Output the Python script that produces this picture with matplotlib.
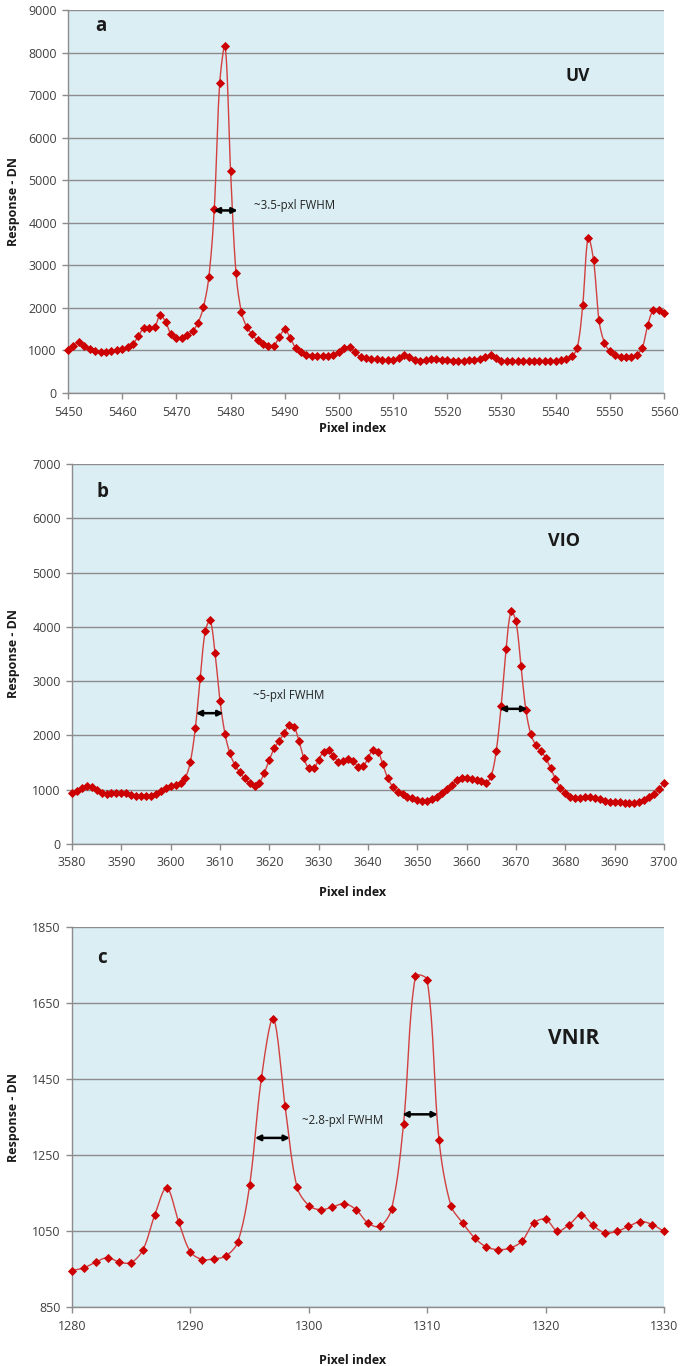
import numpy as np
import matplotlib
matplotlib.use("Agg")
import matplotlib.pyplot as plt

# ---------------- data ----------------
# Panel a (UV)
uv_x = list(range(5450, 5561))
uv_y = [1006, 1100, 1202, 1116, 1037, 998, 967, 959, 982, 1006,
        1045, 1092, 1163, 1336, 1532, 1517, 1548, 1831, 1674, 1375,
        1281, 1297, 1360, 1454, 1650, 2020, 2727, 4330, 7285, 8157,
        5226, 2829, 1902, 1548, 1375, 1234, 1140, 1100, 1116, 1312,
        1493, 1297, 1061, 959, 904, 880, 864, 864, 864, 904,
        959, 1061, 1077, 959, 841, 825, 809, 802, 786, 786,
        786, 825, 888, 841, 778, 762, 778, 794, 802, 786,
        778, 762, 762, 762, 770, 778, 802, 857, 888, 825,
        762, 747, 747, 747, 747, 747, 754, 754, 762, 762,
        762, 786, 809, 864, 1061, 2067, 3654, 3120, 1705, 1179,
        982, 888, 841, 841, 849, 904, 1061, 1595, 1941, 1941,
        1886]

# Panel b (VIO)
vio_x = list(range(3580, 3701))
vio_y = [947, 977, 1039, 1069, 1057, 996, 934, 922, 934, 947,
         947, 934, 903, 891, 879, 879, 885, 916, 977, 1026,
         1069, 1088, 1131, 1223, 1518, 2133, 3067, 3915, 4118, 3510,
         2637, 2034, 1672, 1457, 1321, 1211, 1119, 1069, 1131, 1315,
         1549, 1764, 1899, 2041, 2194, 2163, 1899, 1580, 1395, 1395,
         1549, 1702, 1733, 1623, 1518, 1530, 1567, 1530, 1426, 1432,
         1580, 1733, 1702, 1469, 1211, 1057, 965, 916, 873, 842,
         811, 799, 799, 830, 873, 934, 1008, 1088, 1180, 1223,
         1223, 1199, 1180, 1162, 1131, 1260, 1715, 2551, 3596, 4284,
         4100, 3288, 2471, 2022, 1825, 1715, 1592, 1395, 1199, 1039,
         934, 873, 854, 854, 867, 873, 854, 824, 799, 781,
         768, 768, 762, 762, 762, 781, 811, 860, 916, 1008,
         1119]

# Panel c (VNIR)
vnir_x = list(range(1280, 1331))
vnir_y = [946, 953, 968, 980, 968, 967, 1001, 1093, 1164, 1075,
          995, 975, 977, 984, 1021, 1170, 1453, 1609, 1378, 1166,
          1117, 1106, 1113, 1122, 1106, 1071, 1062, 1109, 1332, 1720,
          1711, 1289, 1117, 1071, 1032, 1008, 1001, 1005, 1023, 1071,
          1081, 1050, 1067, 1093, 1065, 1045, 1049, 1062, 1075, 1067,
          1049]

panels = [
    dict(x=uv_x, y=uv_y, xlim=(5450, 5560), xticks=list(range(5450, 5561, 10)),
         ylim=(0, 9000), yticks=list(range(0, 9001, 1000)),
         letter="a", letter_xy=(5455, 8620), name="UV", name_xy=(5544, 7450), name_fs=12.5,
         fwhm="~3.5-pxl FWHM", fwhm_xy=(5484.3, 4400),
         arrows=[((5476.9, 5481.3), 4290)],
         rect=(68, 10, 664, 393), xlabel_y=429),
    dict(x=vio_x, y=vio_y, xlim=(3580, 3700), xticks=list(range(3580, 3701, 10)),
         ylim=(0, 7000), yticks=list(range(0, 7001, 1000)),
         letter="b", letter_xy=(3585, 6480), name="VIO", name_xy=(3679.7, 5590), name_fs=13,
         fwhm="~5-pxl FWHM", fwhm_xy=(3616.7, 2735),
         arrows=[((3605.1, 3610.7), 2410), ((3666.7, 3672.3), 2490)],
         rect=(72, 464, 664, 844), xlabel_y=893),
    dict(x=vnir_x, y=vnir_y, xlim=(1280, 1330), xticks=list(range(1280, 1331, 10)),
         ylim=(850, 1850), yticks=list(range(850, 1851, 200)),
         letter="c", letter_xy=(1282.1, 1768), name="VNIR", name_xy=(1322.4, 1556), name_fs=15,
         fwhm="~2.8-pxl FWHM", fwhm_xy=(1299.4, 1341),
         arrows=[((1295.45, 1298.4), 1295), ((1307.9, 1310.9), 1357)],
         rect=(72, 927, 664, 1307), xlabel_y=1360),
]

W, H = 680, 1366
BG = "#DAEEF3"
GRID = "#8C8C8C"
LINE = "#D24040"
MARK = "#CC0000"
TICKC = "#404040"
FONT = "Open Sans"


def smooth_display(ax, xs, ys, n=16):
    """Excel-like smoothed line: Bezier segments built in display space,
    control-arm lengths scaled by neighbouring chord lengths."""
    P = ax.transData.transform(np.column_stack([xs, ys]).astype(float))
    N = len(P)
    t = np.linspace(0, 1, n, endpoint=False)[:, None]
    out = []
    for i in range(N - 1):
        P1, P2 = P[i], P[i + 1]
        P0 = P[i - 1] if i > 0 else P1
        P3 = P[i + 2] if i + 2 < N else P2
        d01 = np.hypot(*(P1 - P0))
        d12 = np.hypot(*(P2 - P1))
        d23 = np.hypot(*(P3 - P2))
        f1 = d12 / (d01 + d12) if d01 + d12 > 0 else 0.5
        f2 = d12 / (d12 + d23) if d12 + d23 > 0 else 0.5
        C1 = P1 + (P2 - P0) * f1 / 3.0
        C2 = P2 - (P3 - P1) * f2 / 3.0
        seg = ((1 - t) ** 3) * P1 + 3 * ((1 - t) ** 2) * t * C1 \
            + 3 * (1 - t) * t ** 2 * C2 + t ** 3 * P2
        out.append(seg)
    out.append(P[-1][None, :])
    D = np.vstack(out)
    Q = ax.transData.inverted().transform(D)
    return Q[:, 0], Q[:, 1]


fig = plt.figure(figsize=(W / 100, H / 100), dpi=100)
fig.patch.set_facecolor("white")

for p in panels:
    l, t, r, b = p["rect"]
    ax = fig.add_axes([l / W, 1 - b / H, (r - l) / W, (b - t) / H])
    ax.set_facecolor(BG)
    ax.set_xlim(*p["xlim"])
    ax.set_ylim(*p["ylim"])
    ax.set_xticks(p["xticks"])
    ax.set_yticks(p["yticks"])
    ax.grid(axis="y", color=GRID, lw=1.0, zorder=0)
    ax.set_axisbelow(True)
    for s in ("top", "right"):
        ax.spines[s].set_visible(False)
    for s in ("left", "bottom"):
        ax.spines[s].set_color(GRID)
        ax.spines[s].set_linewidth(1.0)
    ax.tick_params(direction="out", length=4, width=1, color=GRID,
                   labelcolor=TICKC, labelsize=9, pad=4)
    for lab in ax.get_xticklabels() + ax.get_yticklabels():
        lab.set_family(FONT)
    ax.tick_params(axis="x", pad=5)

    sx, sy = smooth_display(ax, p["x"], p["y"])
    ax.plot(sx, sy, color=LINE, lw=1.0, zorder=3, clip_on=False)
    ax.plot(p["x"], p["y"], ls="none", marker="D", ms=3.7, mfc=MARK,
            mec=MARK, mew=0.6, zorder=4, clip_on=False)

    ax.text(*p["letter_xy"], p["letter"], fontsize=13.5, fontweight="bold",
            family=FONT, color="#1A1A1A", ha="left", va="center")
    ax.text(*p["name_xy"], p["name"], fontsize=p["name_fs"], fontweight="bold",
            family=FONT, color="#1A1A1A", ha="center", va="center")
    ax.text(*p["fwhm_xy"], p["fwhm"], fontsize=8.3, family=FONT,
            color="#222222", ha="left", va="center")
    for (x0, x1), yv in p["arrows"]:
        ax.annotate("", xy=(x1, yv), xytext=(x0, yv),
                    arrowprops=dict(arrowstyle="<|-|>", color="black",
                                    lw=1.8, mutation_scale=8,
                                    shrinkA=0, shrinkB=0), zorder=5)

    fig.text(353 / W, 1 - p["xlabel_y"] / H, "Pixel index", fontsize=9,
             fontweight="bold", family=FONT, color="#1A1A1A",
             ha="center", va="center")
    fig.text(13 / W, 1 - ((t + b) / 2) / H, "Response - DN", fontsize=9,
             fontweight="bold", family=FONT, color="#1A1A1A",
             ha="center", va="center", rotation=90)

fig.savefig("out.png", dpi=100, facecolor="white")
